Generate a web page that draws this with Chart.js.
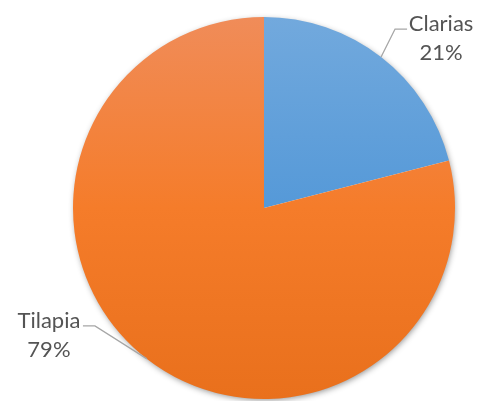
<!DOCTYPE html>
<html>
<head>
<meta charset="utf-8">
<script src="https://cdn.jsdelivr.net/npm/chart.js@4/dist/chart.umd.min.js"></script>
<style>
  html, body { margin: 0; padding: 0; background: #fff; }
  #pieChart { display: block; }
</style>
</head>
<body>
<canvas id="pieChart" width="485" height="401"></canvas>
<script>
var categorias = ['Clarias', 'Tilapia'];
var porcentajes = [21, 79];

// gradient stops (top, middle, bottom) for each slice
var coloresGradiente = [
  ['#72a9dd', '#5599d8', '#4286c8'],
  ['#f08c59', '#f57c2a', '#e9701c']
];

// where each label block sits relative to its leader elbow
var etiquetas = [
  { dx: 14, dy: -28, lado: 1 },
  { dx: -52, dy: -33, lado: -1 }
];

function rellenoGradiente(context) {
  var chart = context.chart;
  var area = chart.chartArea;
  var stops = coloresGradiente[context.dataIndex];
  if (!area) return stops[1];
  var g = chart.ctx.createLinearGradient(0, area.top, 0, area.bottom);
  g.addColorStop(0, stops[0]);
  g.addColorStop(0.5, stops[1]);
  g.addColorStop(1, stops[2]);
  return g;
}

// soft shadow under the whole pie
var sombraPie = {
  id: 'sombraPie',
  beforeDatasetsDraw: function (chart) {
    var arc = chart.getDatasetMeta(0).data[0];
    if (!arc) return;
    var ctx = chart.ctx;
    ctx.save();
    ctx.shadowColor = 'rgba(0,0,0,0.45)';
    ctx.shadowBlur = 6;
    ctx.shadowOffsetX = 1;
    ctx.shadowOffsetY = 2;
    ctx.fillStyle = '#ffffff';
    ctx.beginPath();
    ctx.arc(arc.x, arc.y, arc.outerRadius - 1, 0, Math.PI * 2);
    ctx.fill();
    ctx.restore();
  }
};

// category + percentage labels with leader lines
var etiquetasPie = {
  id: 'etiquetasPie',
  afterDatasetsDraw: function (chart) {
    var ctx = chart.ctx;
    var meta = chart.getDatasetMeta(0);
    ctx.save();
    ctx.font = '22px Lato, "Open Sans", sans-serif';
    ctx.fillStyle = '#545454';
    ctx.textAlign = 'center';
    ctx.textBaseline = 'middle';
    meta.data.forEach(function (arc, i) {
      var mid = (arc.startAngle + arc.endAngle) / 2;
      var px = arc.x + Math.cos(mid) * arc.outerRadius;
      var py = arc.y + Math.sin(mid) * arc.outerRadius;
      var e = etiquetas[i];
      var ex = px + e.dx;
      var ey = py + e.dy;
      var hx = ex + e.lado * 12;

      ctx.strokeStyle = '#a6a6a6';
      ctx.lineWidth = 1.3;
      ctx.beginPath();
      ctx.moveTo(px, py);
      ctx.lineTo(ex, ey);
      ctx.lineTo(hx, ey);
      ctx.stroke();

      var tx = hx + e.lado * 34;
      ctx.fillText(categorias[i], tx, ey - 5);
      ctx.fillText(porcentajes[i] + '%', tx, ey + 24);
    });
    ctx.restore();
  }
};

var pieChart = new Chart(document.getElementById('pieChart').getContext('2d'), {
  type: 'pie',
  data: {
    labels: categorias,
    datasets: [{
      data: porcentajes,
      backgroundColor: rellenoGradiente,
      borderWidth: 0
    }]
  },
  options: {
    responsive: false,
    animation: false,
    layout: { padding: { left: 73, right: 30, top: 17, bottom: 2 } },
    plugins: {
      legend: { display: false },
      tooltip: { enabled: false }
    }
  },
  plugins: [sombraPie, etiquetasPie]
});
</script>
</body>
</html>
